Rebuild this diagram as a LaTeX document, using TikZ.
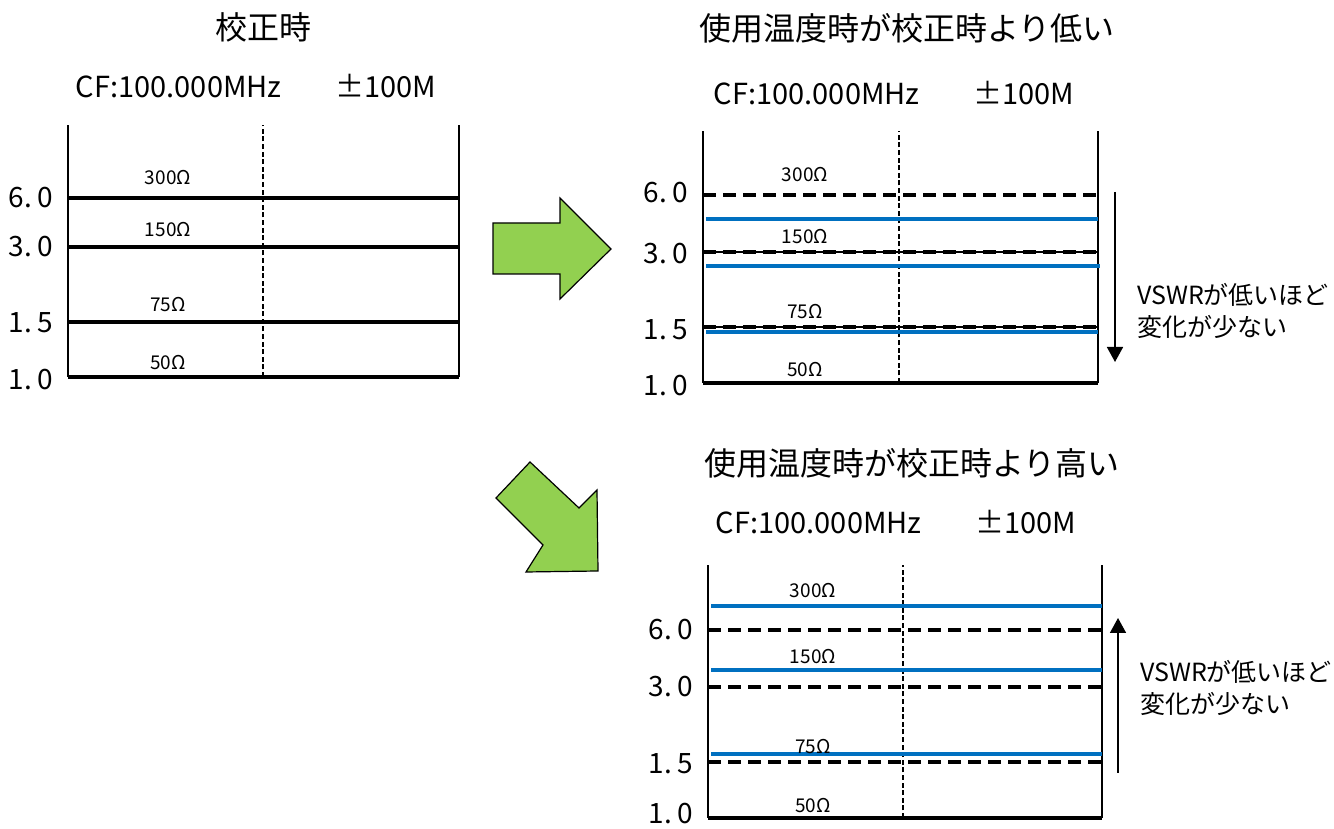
\documentclass[tikz,border=0pt]{standalone}
\usepackage{fontspec}
\setmainfont{Noto Sans CJK JP}
\usepackage{xcolor}
\usepackage{tikz}
\usetikzlibrary{arrows.meta}
\definecolor{levelblue}{HTML}{0070C0}
\definecolor{arrowgreen}{HTML}{92D050}

\begin{document}
\begin{tikzpicture}[x=0.5pt,y=0.5pt,
    axisline/.style={line width=1pt},
    midline/.style={line width=0.7pt, dash pattern=on 2.5pt off 1.3pt},
    rline/.style={line width=2.4pt},
    dline/.style={line width=2.4pt, dash pattern=on 6.5pt off 3.5pt},
    bline/.style={line width=2.2pt, levelblue},
    thinline/.style={line width=0.6pt},
    shiftarrow/.style={line width=0.8pt, -{Triangle[length=7.5pt,width=8pt]}},
    fatarrow/.style={fill=arrowgreen, draw=black, line width=0.6pt},
    titletext/.style={font=\fontsize{16}{19}\selectfont},
    freqtext/.style={font=\fontsize{14.5}{17}\selectfont},
    scaletext/.style={font=\fontsize{14}{17}\selectfont},
    ohmtext/.style={font=\fontsize{9.5}{11}\selectfont},
    notetext/.style={font=\fontsize{12.5}{16}\selectfont, align=left, anchor=west}]
    \useasboundingbox (0,0) rectangle (1334,829);

    % calibration
    \begin{scope}[shift={(68,452)}]
        \node[titletext] (title1) at (195,350) {校正時};
        \node[freqtext] (cf1) at (188,291) {CF:100.000MHz\hspace{1.85em}±100M};
        \draw[axisline] (0,0) -- (0,252);
        \draw[axisline] (391,0) -- (391,252);
        \draw[midline] (195,0) -- (195,252);
        \draw[rline] (0,179) -- (391,179);
        \draw[rline] (0,130) -- (391,130);
        \draw[rline] (0,55) -- (391,55);
        \draw[rline] (0,0) -- (391,0);
        \node[scaletext] (v60a) at (-37,179) {6.\kern3pt0};
        \node[scaletext] (v30a) at (-37,130) {3.\kern3pt0};
        \node[scaletext] (v15a) at (-37,54) {1.\kern3pt5};
        \node[scaletext] (v10a) at (-37,-3) {1.\kern3pt0};
        \node[ohmtext] (r300a) at (100,199) {300Ω};
        \node[ohmtext] (r150a) at (100,147) {150Ω};
        \node[ohmtext] (r75a) at (100,72) {75Ω};
        \node[ohmtext] (r50a) at (100,14) {50Ω};
    \end{scope}

    % lower temperature
    \begin{scope}[shift={(703,446)}]
        \node[titletext] (title2) at (204,355) {使用温度時が校正時より低い};
        \node[freqtext] (cf2) at (191,290) {CF:100.000MHz\hspace{1.85em}±100M};
        \draw[axisline] (0,0) -- (0,252);
        \draw[axisline] (395,0) -- (395,252);
        \draw[midline] (196,0) -- (196,252);
        \draw[dline] (0,188) -- (395,188);
        \draw[bline] (3,164) -- (395,164);
        \draw[thinline] (0,131) -- (395,131);
        \draw[dline] (0,131) -- (395,131);
        \draw[bline] (3,117) -- (397,117);
        \draw[thinline] (0,56) -- (395,56);
        \draw[dline] (0,56) -- (395,56);
        \draw[bline] (3,51) -- (395,51);
        \draw[rline] (0,0) -- (395,0);
        \node[scaletext] (v60b) at (-37,190) {6.\kern3pt0};
        \node[scaletext] (v30b) at (-37,129) {3.\kern3pt0};
        \node[scaletext] (v15b) at (-37,53) {1.\kern3pt5};
        \node[scaletext] (v10b) at (-37,-3) {1.\kern3pt0};
        \node[ohmtext] (r300b) at (102,208) {300Ω};
        \node[ohmtext] (r150b) at (102,146) {150Ω};
        \node[ohmtext] (r75b) at (102,71) {75Ω};
        \node[ohmtext] (r50b) at (102,13) {50Ω};
        \coordinate (downtop) at (412,191);
        \coordinate (downend) at (412,21);
        \draw[shiftarrow] (downtop) -- (downend);
        \node[notetext] (note2) at (427,72) {VSWRが低いほど\\変化が少ない};
    \end{scope}

    % higher temperature
    \begin{scope}[shift={(708,11)}]
        \node[titletext] (title3) at (204,355) {使用温度時が校正時より高い};
        \node[freqtext] (cf3) at (188,296) {CF:100.000MHz\hspace{1.85em}±100M};
        \draw[axisline] (0,0) -- (0,253);
        \draw[axisline] (394,0) -- (394,253);
        \draw[midline] (195,0) -- (195,253);
        \draw[bline] (3,212) -- (394,212);
        \draw[dline] (0,188) -- (394,188);
        \draw[bline] (3,148) -- (394,148);
        \draw[dline] (0,131) -- (394,131);
        \draw[bline] (3,64) -- (394,64);
        \draw[dline] (0,56) -- (394,56);
        \draw[rline] (0,0) -- (394,0);
        \node[scaletext] (v60c) at (-37,188) {6.\kern3pt0};
        \node[scaletext] (v30c) at (-37,131) {3.\kern3pt0};
        \node[scaletext] (v15c) at (-37,54) {1.\kern3pt5};
        \node[scaletext] (v10c) at (-37,4) {1.\kern3pt0};
        \node[ohmtext] (r300c) at (105,227) {300Ω};
        \node[ohmtext] (r150c) at (105,161) {150Ω};
        \node[ohmtext] (r75c) at (105,71) {75Ω};
        \node[ohmtext] (r50c) at (105,12) {50Ω};
        \coordinate (upbase) at (410,45);
        \coordinate (uptop) at (410,200);
        \draw[shiftarrow] (upbase) -- (uptop);
        \node[notetext] (note3) at (425,130) {VSWRが低いほど\\変化が少ない};
    \end{scope}

    % green arrows
    \draw[fatarrow] (493,606) -- (560,606) -- (560,631) -- (611,580) -- (560,530) -- (560,555) -- (493,555) -- cycle;
    \draw[fatarrow] (530,367) -- (579,321) -- (597,339) -- (598,258) -- (526,257) -- (543,284) -- (496,331) -- cycle;
\end{tikzpicture}
\end{document}
